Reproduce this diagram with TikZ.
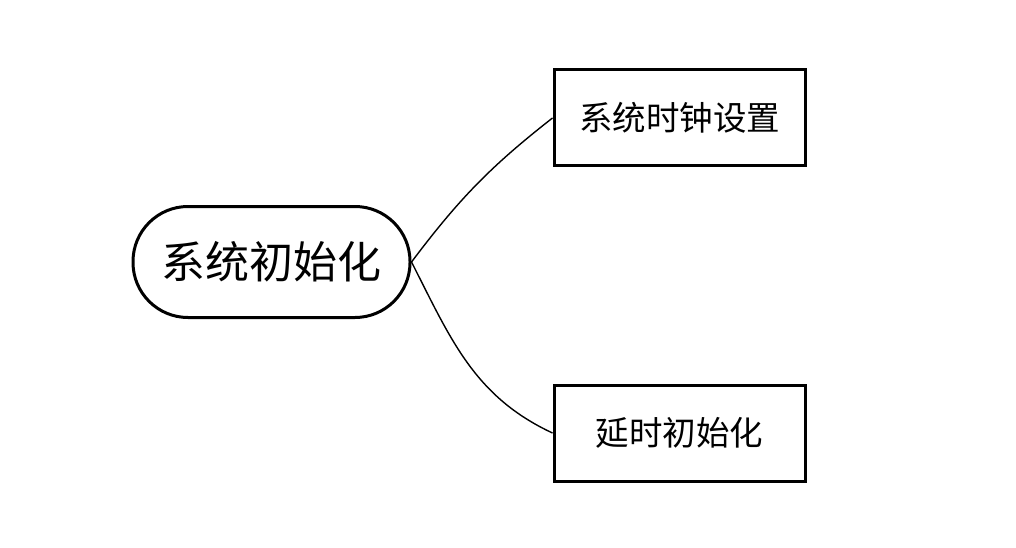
\documentclass[tikz,border=0pt]{standalone}
\usepackage{fontspec}
\newfontfamily\cjk{Noto Sans CJK SC}
\begin{document}
\begin{tikzpicture}[x=1pt,y=1pt,
  pill/.style={draw,line width=3pt,rounded corners=55pt,minimum width=277pt,minimum height=111pt,inner sep=0pt,font=\cjk\fontsize{44}{52}\selectfont},
  leaf/.style={draw,line width=3pt,minimum width=251pt,minimum height=96pt,inner sep=0pt,font=\cjk\fontsize{33.5}{40}\selectfont},
  link/.style={line width=1.4pt}]
\useasboundingbox (0,0) rectangle (1016,547);
\fill[white] (0,0) rectangle (1016,547);
\node[pill] (root) at (271.5,285) {系统初始化};
\node[leaf] (a) at (679.5,429) {系统时钟设置};
\node[leaf] (b) at (679.5,114) {延时初始化};
\draw[link] (root.east) to[out=53,in=218] (a.west);
\draw[link] (root.east) to[out=-63,in=155] (b.west);
\end{tikzpicture}
\end{document}
